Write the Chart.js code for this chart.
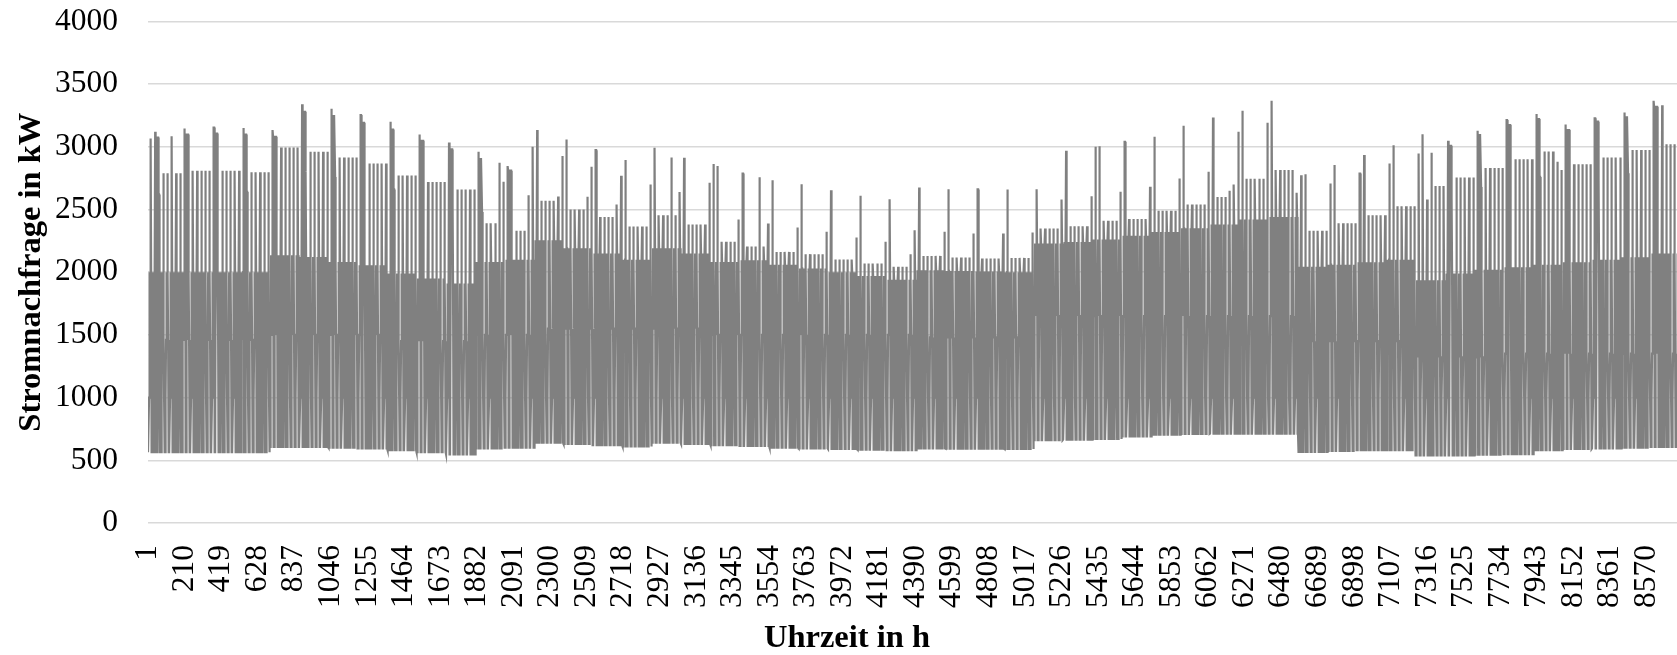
<!DOCTYPE html>
<html>
<head>
<meta charset="utf-8">
<script src="https://cdn.jsdelivr.net/npm/chart.js@4.4.1/dist/chart.umd.min.js"></script>
<style>
  html, body { margin: 0; padding: 0; overflow: hidden; background: #ffffff; }
  #wrap { width: 1680px; height: 655px; }
</style>
</head>
<body>
<div id="wrap"><canvas id="c" width="1680" height="655"></canvas></div>
<script>
// ---- values (kW), one entry per week (week k = Sat..Fri, days 7k+1 .. 7k+7) ----
const satPeak  = [3120,3146,3154,3150,3133,3340,3303,3253,3199,3098,3035,2960,2846,3133,3059,2973,2894,2992,2912,2862,2787,2734,2702,2654,2609,2582,2676,2662,2660,2660,2662,2968,3000,3040,3080,3168,3234,3287,3367,2774,2707,2787,2867,2947,3048,3128,3213,3261,3178,3227,3274,3367];
const sunHigh  = [3074,3098,3106,3098,3080,3279,3245,3191,3138,3048,2979,2902,2810,
                  null,null,null,null,null,null,null,null,null,null,null,null,null,null,null,null,null,null,null,null,null,null,null,null,null,null,null,null,null,null,null,
                  3008,3093,3173,3221,3133,3200,3234,3319];
const sunPeak  = [2620,2640,2640,2640,2640,2800,2760,2720,2660,2600,2540,2480,2450,
                  null,null,null,null,null,null,2846,
                  null,null,null,null,null,null,null,null,null,null,null,null,3005,
                  null,null,null,null,null,null,2782,2854,2934,3013,3101,
                  2600,2680,2707,2760,2700,2740,2790,2850];
const friPeak  = [null,null,null,null,null,null,null,null,null,null,null,
                  2721,3000,2926,2840,2769,2700,2640,2713,2420,2388,2356,2322,2277,2242,2335,2322,2309,2309,2317,2580,2606,2641,2681,2747,2801,3120,3191,2633,
                  null,null,null,null,null,null,null,null,null,null,null,null,null];
const plateau  = [2790,2809,2809,2798,2995,2960,2915,2867,2772,2720,2660,2390,2330,2570,2500,2440,2365,2455,2380,2242,2205,2162,2144,2101,2069,2043,2130,2117,2109,2114,2348,2367,2410,2425,2490,2540,2600,2745,2815,2330,2390,2455,2525,2688,2755,2830,2900,2962,2860,2914,2974,3020];
const dayBase  = [2000,2000,2000,2000,2136,2122,2082,2056,1989,1949,1910,2082,2100,2255,2190,2150,2100,2190,2150,2082,2095,2060,2030,2000,1970,1940,2016,2010,2005,2000,2229,2240,2260,2290,2320,2350,2380,2420,2440,2043,2060,2080,2100,1936,1990,2020,2040,2060,2080,2100,2120,2149];
const dayDip   = [1460,1460,1460,1460,1500,1500,1500,1500,1450,1450,1450,1500,1500,1550,1550,1550,1550,1550,1550,1500,1500,1500,1500,1500,1500,1500,1480,1480,1480,1480,1650,1650,1650,1650,1650,1650,1650,1650,1650,1450,1450,1450,1450,1320,1320,1320,1350,1350,1350,1350,1350,1350];
const nightLow = [565,565,565,565,606,606,600,595,580,565,548,595,600,640,630,620,610,640,630,620,615,600,595,590,585,580,595,593,593,590,660,665,670,690,705,710,712,713,713,567,575,580,580,540,540,545,550,580,590,595,600,606];
const rampLevel = 1000; // morning / evening transition hour

// single days whose peak differs from their week (day index 0..364)
const specialDays  = [0,5,83,90,97,104,111,124,145,181,257,258,304,305,335,336,360];
const specialPeaks = [3067,3085,2872,2614,2604,2601,2540,2915,2758,2144,2650,2700,2580,2952,2880,2814,3332];

// hourly level pattern of a day (N night, L ramp, M day dip, D day base, X day peak, S Saturday peak, U weekend high, H Sunday peak)
const normalShape = 'NNNNNN' + 'L' + 'MDMDMDMDMD' + 'X' + 'DM' + 'L' + 'NNN';
const satShape    = 'NNNNNN' + 'L' + 'MDMDMDMDMD' + 'SS' + 'UU' + 'NNN';
const sunShape    = 'NNNNN' + 'UUUUUUUUU' + 'HH' + 'DMDM' + 'L' + 'NNN';

// x-axis tick labels (hours)
const tickHours = [1,210,419,628,837,1046,1255,1464,1673,1882,2091,2300,2509,2718,2927,3136,3345,3554,3763,3972,4181,4390,4599,4808,5017,5226,5435,5644,5853,6062,6271,6480,6689,6898,7107,7316,7525,7734,7943,8152,8361,8570];
const yTicks = [0,500,1000,1500,2000,2500,3000,3500,4000];

// ---- assemble the hourly series from the read levels ----
const points = [];
for (let d = 0; d < 365; d++) {
  const k = d === 0 ? 0 : Math.floor((d - 1) / 7);
  const dow = d === 0 ? 6 : (d - 1) % 7; // 0 Sat, 1 Sun, 2..5 Mon-Thu, 6 Fri
  const P = plateau[k];
  const lv = { N: nightLow[k], L: rampLevel, M: dayDip[k], D: dayBase[k], X: P, S: satPeak[k],
               U: sunHigh[k] !== null ? sunHigh[k] : dayBase[k],
               H: sunPeak[k] !== null ? sunPeak[k] : P };
  let shape = normalShape;
  if (dow === 0) shape = satShape;
  else if (dow === 1) {
    if (sunHigh[k] !== null) shape = sunShape;
    else lv.X = lv.H;
  } else if (dow === 6 && friPeak[k] !== null) lv.X = friPeak[k];
  const si = specialDays.indexOf(d);
  if (si >= 0) { shape = normalShape; lv.X = specialPeaks[si]; }
  for (let h = 0; h < 24; h++) {
    points.push({ x: d * 24 + h + 1, y: lv[shape[h]] });
  }
}

const FONT = "'Liberation Serif', 'Times New Roman', serif";

new Chart(document.getElementById('c'), {
  type: 'line',
  data: {
    datasets: [{
      data: points,
      borderColor: '#808080',
      borderWidth: 2.2,
      pointRadius: 0,
      pointHoverRadius: 0,
      tension: 0,
      fill: false,
      borderJoinStyle: 'miter'
    }]
  },
  options: {
    responsive: false,
    devicePixelRatio: 1,
    animation: false,
    parsing: false,
    normalized: true,
    events: [],
    layout: { padding: { left: 14, right: 0, top: 21.4, bottom: 0 } },
    plugins: {
      legend: { display: false },
      tooltip: { enabled: false },
      title: {
        display: true,
        position: 'bottom',
        text: 'Uhrzeit in h',
        color: '#000000',
        padding: 0,
        font: { family: FONT, size: 32.5, weight: 'bold', lineHeight: 1 }
      }
    },
    scales: {
      x: {
        type: 'linear',
        min: 1,
        max: 8760,
        afterBuildTicks: (s) => { s.ticks = tickHours.map(v => ({ value: v })); },
        afterFit: (s) => { s.height = 99.5; s.paddingLeft = 0; s.paddingRight = 0; },
        grid: { display: false, drawTicks: false },
        border: { display: false },
        ticks: {
          autoSkip: false,
          minRotation: 90,
          maxRotation: 90,
          padding: 22,
          color: '#000000',
          font: { family: FONT, size: 31.5 },
          callback: (v) => String(v)
        }
      },
      y: {
        min: 0,
        max: 4000,
        afterBuildTicks: (s) => { s.ticks = yTicks.map(v => ({ value: v })); },
        afterFit: (s) => { s.width = 134; s.paddingTop = 0; s.paddingBottom = 0; },
        grid: { color: '#d9d9d9', lineWidth: 1.5, drawTicks: false },
        border: { display: false },
        ticks: {
          padding: 30,
          color: '#000000',
          font: { family: FONT, size: 31.5 },
          callback: (v) => String(v)
        },
        title: {
          display: true,
          text: 'Stromnachfrage in kW',
          color: '#000000',
          padding: { top: 1.5, bottom: 0 },
          font: { family: FONT, size: 32.5, weight: 'bold', lineHeight: 1 }
        }
      }
    }
  }
});
</script>
</body>
</html>
